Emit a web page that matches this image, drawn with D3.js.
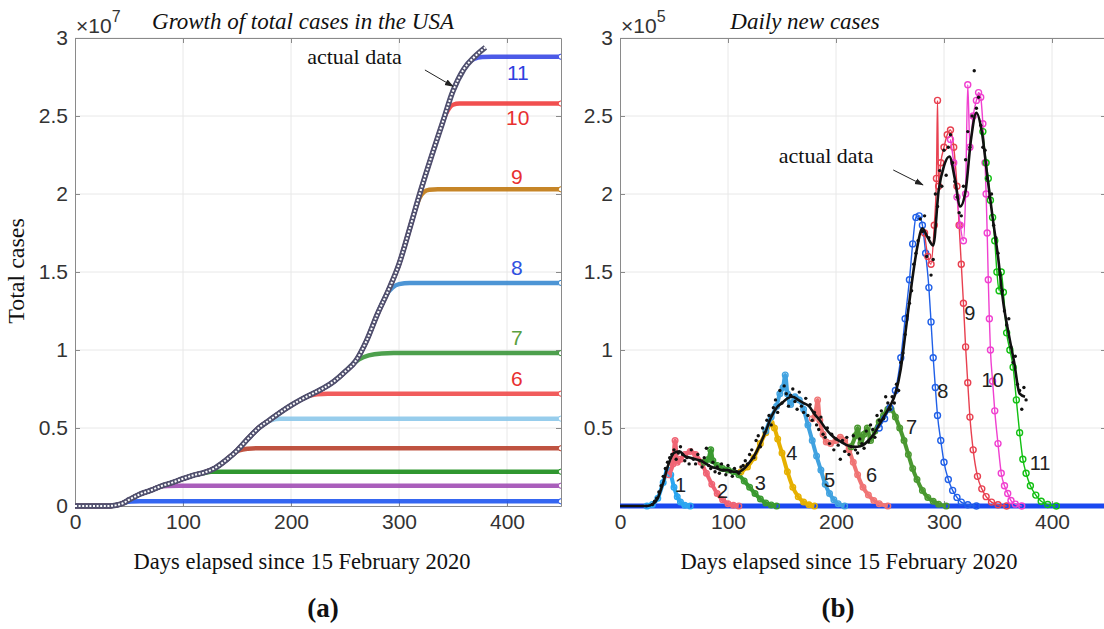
<!DOCTYPE html>
<html lang="en">
<head>
<meta charset="UTF-8">
<title>USA total and daily cases</title>
<script src="https://cdn.jsdelivr.net/npm/d3@7"></script>
<style>
  body { margin: 0; background: #fff; overflow: hidden; }
  .tick text { font-family: "Liberation Sans", Arial, sans-serif; font-size: 21px; fill: #333; }
  .serif { font-family: "Liberation Serif", "Times New Roman", serif; fill: #111; }
</style>
</head>
<body>
<script>
// ---- data (cases: left x1e7, right x1e5) ----
const xTicks = [0, 100, 200, 300, 400];
const yTicksLeft = [0, 0.5, 1, 1.5, 2, 2.5, 3];
const yTicksRight = [0, 0.5, 1, 1.5, 2, 2.5, 3];

// cumulative actual data, [day, total]
const totalActual = [[0,0],[10,0],[20,0],[30,0],[35,0.002],[40,0.008],[45,0.02],[50,0.04],[55,0.058],[60,0.075],
  [70,0.10],[80,0.128],[90,0.15],[100,0.175],[110,0.198],[120,0.215],[130,0.245],[140,0.295],[150,0.355],
  [160,0.43],[170,0.50],[180,0.55],[190,0.60],[200,0.645],[210,0.685],[220,0.72],[230,0.755],[240,0.80],
  [250,0.86],[260,0.93],[270,1.06],[280,1.23],[290,1.38],[300,1.55],[310,1.78],[320,2.02],[330,2.24],
  [340,2.45],[350,2.66],[360,2.80],[370,2.88],[380,2.94]];

// fitted totals: tail after leaving the actual curve
const totalFit1 = [[46,0.022],[52,0.029],[60,0.03],[450,0.03]];
const totalFit2 = [[78,0.122],[86,0.129],[96,0.13],[450,0.13]];
const totalFit3 = [[120,0.212],[126,0.219],[134,0.22],[450,0.22]];
const totalFit4 = [[146,0.331],[152,0.356],[160,0.367],[168,0.37],[450,0.37]];
const totalFit5 = [[176,0.53],[182,0.551],[190,0.559],[198,0.56],[450,0.56]];
const totalFit6 = [[208,0.677],[216,0.704],[224,0.716],[234,0.72],[450,0.72]];
const totalFit7 = [[255,0.895],[263,0.94],[272,0.966],[284,0.978],[295,0.98],[450,0.98]];
const totalFit8 = [[288,1.35],[294,1.40],[300,1.422],[310,1.43],[450,1.43]];
const totalFit9 = [[315,1.90],[319,1.975],[323,2.012],[328,2.027],[336,2.03],[450,2.03]];
const totalFit10 = [[342,2.49],[346,2.545],[350,2.572],[356,2.58],[450,2.58]];
const totalFit11 = [[360,2.80],[365,2.845],[370,2.868],[377,2.878],[386,2.88],[450,2.88]];
const totalFits = [totalFit1, totalFit2, totalFit3, totalFit4, totalFit5, totalFit6,
  totalFit7, totalFit8, totalFit9, totalFit10, totalFit11];
const totalFitColors = ["#1f55f0","#a04cb4","#1a8c1a","#b8402c","#8cc8ea","#f04a4a",
  "#3a963a","#3a8ad0","#c07810","#f03c3c","#3848e4"];
// labels next to the plateaus [day, value, text]
const totalLabels = [[410,2.78,"11","#3040e0"],[410,2.49,"10","#e83030"],[409,2.11,"9","#e83030"],
  [409,1.53,"8","#3050e0"],[409,1.08,"7","#5aa040"],[409,0.82,"6","#e83030"]];

// daily new cases, smoothed actual [day, value]
const dailySmooth = [[0,0],[25,0],[30,0.01],[35,0.05],[40,0.15],[45,0.27],[50,0.34],[55,0.35],[60,0.32],
  [65,0.31],[70,0.30],[75,0.29],[80,0.27],[85,0.25],[90,0.24],[95,0.23],[100,0.23],[105,0.22],[110,0.22],
  [115,0.24],[120,0.28],[125,0.33],[130,0.40],[135,0.48],[140,0.57],[145,0.63],[150,0.66],[155,0.69],
  [160,0.70],[165,0.68],[170,0.66],[175,0.64],[180,0.59],[185,0.55],[190,0.50],[195,0.46],[200,0.43],
  [205,0.41],[210,0.39],[215,0.38],[220,0.38],[225,0.39],[230,0.42],[235,0.46],[240,0.52],[245,0.58],
  [250,0.64],[255,0.72],[260,0.88],[265,1.15],[270,1.42],[275,1.65],[280,1.78],[285,1.72],[290,1.67],
  [295,2.02],[300,2.18],[305,2.24],[310,2.10],[315,1.92],[320,2.02],[325,2.35],[330,2.52],[335,2.40],
  [340,2.12],[345,1.85],[350,1.60],[355,1.30],[360,1.10],[365,0.92],[370,0.72],[375,0.70]];

// raw daily reports, every second day starting at day 30
const rawFirstDay = 30;
const dailyRaw = [
  0.01,0.03,0.05,0.09,0.13,0.19,0.24,0.28,0.31,0.33,
  0.36,0.30,0.34,0.38,0.33,0.29,0.31,0.27,0.36,0.30,
  0.27,0.33,0.29,0.25,0.31,0.37,0.26,0.24,0.28,0.22,
  0.25,0.21,0.27,0.23,0.20,0.26,0.22,0.19,0.24,0.22,
  0.21,0.25,0.26,0.29,0.27,0.33,0.36,0.31,0.42,0.45,
  0.38,0.50,0.47,0.55,0.58,0.52,0.63,0.68,0.60,0.74,
  0.66,0.77,0.72,0.64,0.71,0.75,0.67,0.62,0.73,0.64,
  0.60,0.69,0.58,0.65,0.55,0.60,0.52,0.49,0.57,0.46,
  0.44,0.50,0.40,0.46,0.36,0.43,0.39,0.30,0.42,0.35,
  0.44,0.33,0.38,0.45,0.36,0.34,0.43,0.40,0.37,0.48,
  0.41,0.52,0.49,0.44,0.58,0.55,0.61,0.56,0.70,0.66,
  0.62,0.70,0.66,0.78,0.74,0.92,0.98,1.10,1.22,1.30,
  1.38,1.55,1.62,1.70,1.84,1.76,1.86,1.60,1.72,1.48,
  1.58,2.00,1.92,2.15,2.05,2.28,2.12,2.30,2.38,2.20,
  2.08,1.98,1.88,1.86,2.05,2.22,2.40,2.30,2.50,2.79,
  2.55,2.62,2.44,2.30,2.28,2.10,1.98,2.00,1.80,1.72,
  1.62,1.48,1.38,1.25,1.16,1.20,1.02,0.92,0.96,0.78,
  0.74,0.62,0.76,0.68];

// fitted daily curves (visible part), [day, value]
const dailyFit1 = [[25,0],[30,0.01],[35,0.05],[40,0.15],[44,0.23],[47,0.20],[50,0.12],[53,0.06],[56,0.025],[60,0.005],[65,0]];
const dailyFit2 = [[45,0.20],[49,0.27],[51,0.42],[53,0.28],[56,0.30],[60,0.33],[65,0.35],[70,0.33],[75,0.28],[80,0.21],
  [85,0.14],[90,0.08],[95,0.04],[100,0.015],[105,0.005],[110,0]];
const dailyFit3 = [[78,0.28],[82,0.30],[84,0.36],[86,0.29],[90,0.26],[95,0.24],[100,0.23],[105,0.22],[110,0.20],
  [115,0.16],[120,0.12],[125,0.08],[130,0.045],[135,0.02],[140,0.007],[145,0]];
const dailyFit4 = [[112,0.22],[118,0.25],[124,0.31],[130,0.40],[135,0.47],[140,0.53],[143,0.50],[146,0.43],[150,0.34],
  [155,0.22],[160,0.12],[165,0.06],[170,0.025],[175,0.008],[180,0]];
const dailyFit5 = [[135,0.48],[140,0.57],[145,0.64],[148,0.72],[151,0.76],[153,0.84],[155,0.72],[158,0.65],[162,0.70],
  [166,0.68],[170,0.62],[174,0.52],[178,0.42],[182,0.32],[186,0.23],[190,0.14],[194,0.08],[198,0.04],[202,0.015],[208,0]];
const dailyFit6 = [[178,0.56],[181,0.60],[183,0.68],[185,0.55],[188,0.46],[191,0.41],[195,0.40],[200,0.42],[204,0.44],
  [208,0.42],[212,0.36],[216,0.28],[220,0.20],[225,0.12],[230,0.07],[235,0.035],[240,0.015],[248,0]];
const dailyFit7 = [[214,0.38],[218,0.45],[220,0.50],[223,0.40],[226,0.46],[229,0.50],[232,0.42],[236,0.48],[240,0.54],
  [244,0.58],[248,0.62],[251,0.62],[255,0.57],[259,0.50],[263,0.42],[267,0.33],[271,0.24],[275,0.17],[280,0.10],
  [285,0.055],[290,0.03],[295,0.012],[302,0]];
const dailyFit8 = [[240,0.50],[245,0.56],[250,0.63],[255,0.74],[260,0.95],[264,1.20],[268,1.45],[271,1.68],[274,1.85],
  [277,1.86],[280,1.80],[283,1.62],[286,1.40],[288,1.18],[290,0.95],[292,0.76],[294,0.58],[297,0.42],[300,0.28],
  [304,0.17],[308,0.10],[312,0.055],[316,0.025],[322,0.008],[330,0]];
const dailyFit9 = [[282,1.75],[285,1.60],[288,1.55],[291,1.80],[293,2.10],[294,2.60],[295,2.05],[297,2.20],[300,2.30],
  [303,2.38],[306,2.41],[309,2.30],[312,2.05],[314,1.80],[316,1.55],[318,1.30],[320,1.02],[322,0.79],[324,0.57],
  [327,0.36],[331,0.19],[335,0.11],[339,0.06],[344,0.025],[350,0.008],[358,0]];
const dailyFit10 = [[306,2.35],[309,2.20],[312,1.98],[315,1.80],[318,1.70],[320,2.00],[322,2.70],[324,2.30],[327,2.50],
  [330,2.60],[332,2.65],[334,2.62],[336,2.45],[338,2.20],[339,2.00],[340,1.75],[341,1.45],[342,1.20],[343,1.00],
  [345,0.80],[347,0.61],[350,0.40],[353,0.21],[356,0.13],[359,0.08],[362,0.035],[366,0.012],[372,0]];
const dailyFit11 = [[336,2.40],[339,2.20],[341,2.10],[343,1.96],[345,1.85],[347,1.70],[349,1.50],[351,1.38],[353,1.50],
  [355,1.37],[358,1.11],[361,1.00],[364,0.89],[367,0.68],[370,0.47],[373,0.30],[376,0.21],[380,0.13],[385,0.07],
  [390,0.03],[396,0.01],[404,0]];
const dailyFits = [dailyFit1, dailyFit2, dailyFit3, dailyFit4, dailyFit5, dailyFit6,
  dailyFit7, dailyFit8, dailyFit9, dailyFit10, dailyFit11];
const dailyFitColors = ["#2aa6f0","#f06474","#3a9a30","#e6b000","#40a2e0","#f07474",
  "#4a9830","#2060e8","#e84050","#f040d0","#12c012"];
const modelFloor = [[0,0],[450,0]];
const dailyLabels = [[56,0.135,"1"],[95,0.10,"2"],[130,0.15,"3"],[159,0.34,"4"],[194,0.17,"5"],[233,0.20,"6"],
  [270,0.51,"7"],[299,0.74,"8"],[324,1.24,"9"],[345,0.81,"10"],[389,0.28,"11"]];

// ---- drawing ----
const svg = d3.select("body").append("svg").attr("width", 1104).attr("height", 629);

svg.append("defs").append("marker")
  .attr("id", "arrow").attr("viewBox", "0 0 10 10").attr("refX", 9).attr("refY", 5)
  .attr("markerWidth", 9).attr("markerHeight", 9).attr("orient", "auto")
  .append("path").attr("d", "M0,1.5L10,5L0,8.5Z").attr("fill", "#222");

const axisColor = "#8a8a8a";

function frame(g, x, y, yTicks, yFmt, id) {
  const [x0, x1] = x.range(), [y0, y1] = y.range();
  g.append("g").selectAll("line").data(xTicks.filter(d => d > 0)).join("line")
    .attr("x1", d => x(d)).attr("x2", d => x(d)).attr("y1", y0).attr("y2", y1)
    .attr("stroke", "#e8e8e8");
  g.append("g").selectAll("line").data(yTicks.filter(d => d > 0)).join("line")
    .attr("y1", d => y(d)).attr("y2", d => y(d)).attr("x1", x0).attr("x2", x1)
    .attr("stroke", "#e8e8e8");

  const bx = g.append("g").attr("transform", `translate(0,${y0})`)
    .call(d3.axisBottom(x).tickValues(xTicks).tickSizeInner(-5).tickSizeOuter(0).tickPadding(8).tickFormat(d3.format("d")));
  const by = g.append("g").attr("transform", `translate(${x0},0)`)
    .call(d3.axisLeft(y).tickValues(yTicks).tickSizeInner(-5).tickSizeOuter(0).tickPadding(7).tickFormat(yFmt));
  const bt = g.append("g").attr("transform", `translate(0,${y1})`)
    .call(d3.axisTop(x).tickValues(xTicks).tickSizeInner(-5).tickSizeOuter(0).tickFormat(""));
  const br = g.append("g").attr("transform", `translate(${x1},0)`)
    .call(d3.axisRight(y).tickValues(yTicks).tickSizeInner(-5).tickSizeOuter(0).tickFormat(""));
  [bx, by, bt, br].forEach(a => {
    a.select(".domain").attr("stroke", axisColor);
    a.selectAll(".tick line").attr("stroke", axisColor);
  });
  g.append("clipPath").attr("id", id).append("rect")
    .attr("x", x0).attr("y", y1 - 6).attr("width", x1 - x0).attr("height", y0 - y1 + 12);
}

// ===== left panel =====
const xL = d3.scaleLinear([0, 450], [75, 561]);
const yL = d3.scaleLinear([0, 3], [506, 38]);
const gL = svg.append("g");
frame(gL, xL, yL, yTicksLeft, d3.format(""), "clipL");

const lineL = d3.line().x(d => xL(d[0])).y(d => yL(d[1])).curve(d3.curveMonotoneX);
const plotL = gL.append("g").attr("clip-path", "url(#clipL)");

totalFits.forEach((tail, i) => {
  const pts = totalActual.filter(d => d[0] < tail[0][0]).concat(tail);
  plotL.append("path").attr("d", lineL(pts)).attr("fill", "none")
    .attr("stroke", totalFitColors[i]).attr("stroke-width", 4.5).attr("stroke-opacity", 0.9);
  const end = tail[tail.length - 1];
  plotL.append("circle").attr("cx", xL(end[0])).attr("cy", yL(end[1])).attr("r", 2.6)
    .attr("fill", "#fff").attr("stroke", totalFitColors[i]).attr("stroke-width", 1);
});
plotL.append("path").attr("d", lineL(totalActual)).attr("fill", "none")
  .attr("stroke", "#50506e").attr("stroke-width", 5.5);
plotL.append("path").attr("d", lineL(totalActual)).attr("fill", "none")
  .attr("stroke", "#fff").attr("stroke-width", 2).attr("stroke-dasharray", "2,1.6");

gL.append("g").selectAll("text").data(totalLabels).join("text")
  .attr("x", d => xL(d[0])).attr("y", d => yL(d[1])).attr("dy", "0.36em")
  .attr("text-anchor", "middle").attr("fill", d => d[3])
  .style("font-family", "'Liberation Sans', Arial, sans-serif").style("font-size", "21px")
  .text(d => d[2]);

gL.append("text").attr("class", "serif").attr("x", xL(215)).attr("y", yL(2.833))
  .style("font-size", "22px").text("actual data");
gL.append("line").attr("x1", xL(324)).attr("y1", yL(2.795)).attr("x2", xL(350)).attr("y2", yL(2.69))
  .attr("stroke", "#222").attr("stroke-width", 1).attr("marker-end", "url(#arrow)");

// ===== right panel =====
const xR = d3.scaleLinear([0, 450], [620, 1106]);
const yR = d3.scaleLinear([0, 3], [506, 38]);
const gR = svg.append("g");
frame(gR, xR, yR, yTicksRight, d => d === 0 ? "" : d3.format("")(d), "clipR");

const lineR = d3.line().x(d => xR(d[0])).y(d => yR(d[1])).curve(d3.curveMonotoneX);
const plotR = gR.append("g").attr("clip-path", "url(#clipR)");

plotR.append("path").attr("d", d3.line().x(d => xR(d[0])).y(d => yR(d[1]))(modelFloor))
  .attr("stroke", "#1a48f0").attr("stroke-width", 5).attr("fill", "none");

dailyFits.forEach((pts, i) => {
  const thick = i < 7;
  plotR.append("path").attr("d", lineR(pts)).attr("fill", "none")
    .attr("stroke", dailyFitColors[i]).attr("stroke-width", thick ? 4 : 1.4);
  plotR.append("g").selectAll("circle").data(pts).join("circle")
    .attr("cx", d => xR(d[0])).attr("cy", d => yR(d[1])).attr("r", thick ? 2.8 : 3)
    .attr("fill", "none").attr("stroke", dailyFitColors[i]).attr("stroke-width", 1.4);
});

plotR.append("path").attr("d", lineR(dailySmooth)).attr("fill", "none")
  .attr("stroke", "#111").attr("stroke-width", 2.6);
plotR.append("g").selectAll("circle").data(dailyRaw).join("circle")
  .attr("cx", (d, i) => xR(rawFirstDay + 2 * i)).attr("cy", d => yR(d)).attr("r", 1.7)
  .attr("fill", "#111");

gR.append("g").selectAll("text").data(dailyLabels).join("text")
  .attr("x", d => xR(d[0])).attr("y", d => yR(d[1])).attr("dy", "0.36em")
  .attr("text-anchor", "middle").attr("fill", "#222")
  .style("font-family", "'Liberation Sans', Arial, sans-serif").style("font-size", "20px")
  .text(d => d[2]);

gR.append("text").attr("class", "serif").attr("x", xR(147)).attr("y", yR(2.2))
  .style("font-size", "22px").text("actual data");
gR.append("line").attr("x1", xR(253)).attr("y1", yR(2.154)).attr("x2", xR(280.5)).attr("y2", yR(2.058))
  .attr("stroke", "#222").attr("stroke-width", 1).attr("marker-end", "url(#arrow)");

// ===== titles, exponents, axis labels =====
function exponent(x, y, p) {
  const t = svg.append("text").attr("x", x(0) + 1).attr("y", y(3) - 5)
    .style("font-family", "'Liberation Sans', Arial, sans-serif").style("font-size", "21px").attr("fill", "#333");
  t.append("tspan").text("×10");
  t.append("tspan").attr("dy", -11).style("font-size", "16px").text(p);
}
exponent(xL, yL, "7");
exponent(xR, yR, "5");

svg.append("text").attr("class", "serif").attr("x", 303).attr("y", 29).attr("text-anchor", "middle")
  .style("font-size", "23px").style("font-style", "italic").text("Growth of total cases in the USA");
svg.append("text").attr("class", "serif").attr("x", 805).attr("y", 29).attr("text-anchor", "middle")
  .style("font-size", "23px").style("font-style", "italic").text("Daily new cases");

svg.append("text").attr("class", "serif").attr("x", 302).attr("y", 569).attr("text-anchor", "middle")
  .style("font-size", "22.5px").text("Days elapsed since 15 February 2020");
svg.append("text").attr("class", "serif").attr("x", 849).attr("y", 569).attr("text-anchor", "middle")
  .style("font-size", "22.5px").text("Days elapsed since 15 February 2020");
svg.append("text").attr("class", "serif").attr("transform", "translate(24,271) rotate(-90)")
  .attr("text-anchor", "middle").style("font-size", "24px").text("Total cases");

svg.append("text").attr("class", "serif").attr("x", 323).attr("y", 617).attr("text-anchor", "middle")
  .style("font-size", "27px").style("font-weight", "bold").text("(a)");
svg.append("text").attr("class", "serif").attr("x", 838).attr("y", 617).attr("text-anchor", "middle")
  .style("font-size", "27px").style("font-weight", "bold").text("(b)");
</script>
</body>
</html>
